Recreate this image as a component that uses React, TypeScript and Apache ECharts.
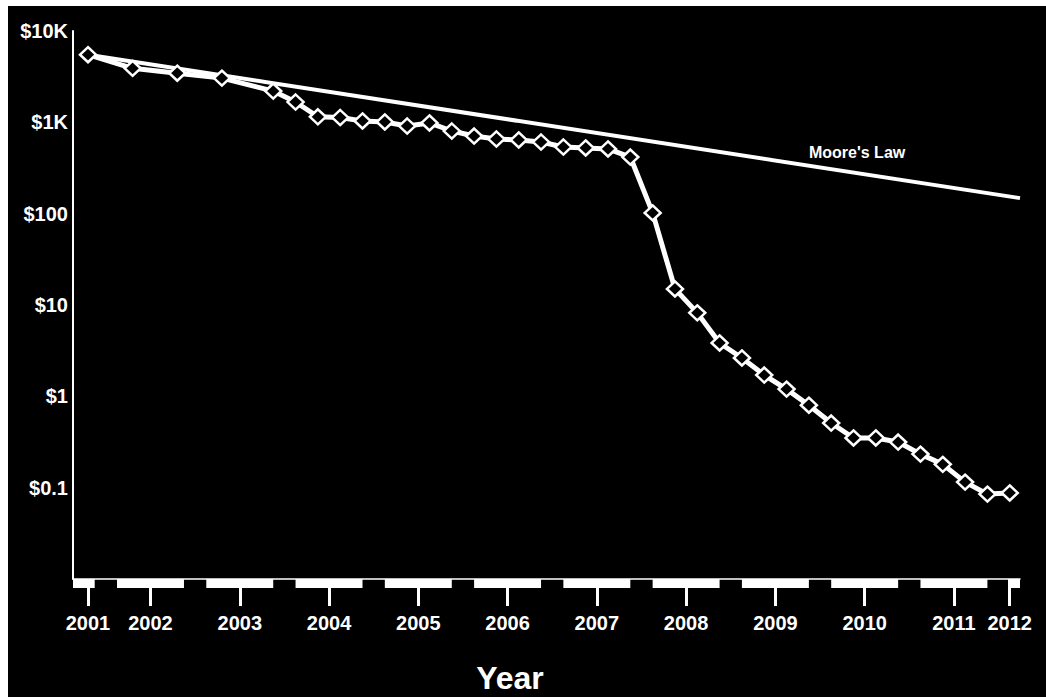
import React, { useEffect, useRef } from "react";
import * as echarts from "echarts";

// ---- data ----
// decimal-year positions of the observed points
const YEARS: number[] = [
  2001.3, 2001.8, 2002.3, 2002.8,
  2003.375, 2003.625, 2003.875, 2004.125, 2004.375, 2004.625, 2004.875,
  2005.125, 2005.375, 2005.625, 2005.875, 2006.125, 2006.375, 2006.625,
  2006.875, 2007.125, 2007.375, 2007.625, 2007.875, 2008.125, 2008.375,
  2008.625, 2008.875, 2009.125, 2009.375, 2009.625, 2009.875, 2010.125,
  2010.375, 2010.625, 2010.875, 2011.125, 2011.375, 2011.625,
];
// cost in US dollars (log scale)
const COST: number[] = [
  5500, 3900, 3450, 3050,
  2200, 1670, 1150, 1130, 1035, 1010, 912,
  984, 804, 708, 657, 641, 609, 537,
  524, 511, 417, 102, 15.0, 8.2, 3.84,
  2.63, 1.71, 1.2, 0.8, 0.51, 0.35, 0.35,
  0.316, 0.233, 0.18, 0.115, 0.085, 0.0875,
];
const MOORE_YEARS: number[] = [2001.3, 2011.74];
const MOORE_COST: number[] = [5500, 148];
const MOORE_LABEL = "Moore's Law";
const MOORE_LABEL_AT: [number, number] = [2009.915, 473];

const X_MIN = 2001.132;
const X_MAX = 2011.74;
const Y_MIN = 0.01;
const Y_MAX = 10000;
const TICK_YEARS: number[] = [2001.3, 2002, 2003, 2004, 2005, 2006, 2007, 2008, 2009, 2010, 2011, 2011.625];
const BLOCK_YEARS: number[] = [2001, 2002, 2003, 2004, 2005, 2006, 2007, 2008, 2009, 2010, 2011, 2012];
const X_TITLE = "Year";

const FONT = "'Liberation Sans', Arial, sans-serif";

export default function App() {
  const ref = useRef<HTMLDivElement>(null);

  useEffect(() => {
    if (!ref.current) return;
    const chart = echarts.init(ref.current, undefined, { renderer: "svg" });

    const fmtX = (v: number) => {
      if (v < 2001.5) return "2001";
      if (v > 2011.5) return "2012";
      return String(Math.round(v));
    };
    const fmtY = (v: number) => {
      const e = Math.round(Math.log10(v));
      if (e <= -2) return "";
      if (e >= 3) return "$" + Math.pow(10, e - 3) + "K";
      if (e >= 0) return "$" + Math.pow(10, e);
      return "$" + Math.pow(10, e).toFixed(-e);
    };

    const option: any = {
      animation: false,
      backgroundColor: "#000",
      grid: { left: 65, right: 26, top: 25, bottom: 118, containLabel: false },
      xAxis: {
        type: "value",
        min: X_MIN,
        max: X_MAX,
        axisLine: { show: true, onZero: false, lineStyle: { color: "#fff", width: 1.5 } },
        axisTick: {
          show: true,
          customValues: TICK_YEARS,
          length: 27,
          lineStyle: { color: "#fff", width: 3 },
        },
        axisLabel: {
          customValues: TICK_YEARS,
          formatter: fmtX,
          color: "#fff",
          fontSize: 20,
          fontWeight: "bold",
          fontFamily: FONT,
          margin: 34,
        },
        splitLine: { show: false },
      },
      yAxis: {
        type: "log",
        logBase: 10,
        min: Y_MIN,
        max: Y_MAX,
        axisLine: { show: true, lineStyle: { color: "#fff", width: 2 } },
        axisTick: { show: false },
        splitLine: { show: false },
        minorTick: { show: false },
        axisLabel: {
          formatter: fmtY,
          color: "#fff",
          fontSize: 20,
          fontWeight: "bold",
          fontFamily: FONT,
          margin: 5,
        },
      },
      graphic: [
        {
          type: "text",
          x: 502,
          y: 672,
          style: {
            text: X_TITLE,
            fill: "#fff",
            font: `bold 32px ${FONT}`,
            align: "center",
            verticalAlign: "middle",
          },
        },
      ],
      series: [
        {
          type: "custom",
          name: "axisBlocks",
          silent: true,
          clip: false,
          z: 1,
          data: BLOCK_YEARS.map((y) => [y, Y_MIN]),
          renderItem: (params: any, api: any) => {
            const yr = api.value(0);
            const cs = params.coordSys;
            const l = api.coord([yr - 0.375, Y_MIN])[0];
            const r = api.coord([yr + 0.375, Y_MIN])[0];
            const x0 = Math.max(cs.x, l);
            const x1 = Math.min(cs.x + cs.width, r);
            if (x1 <= x0) return null;
            return {
              type: "rect",
              shape: { x: x0, y: cs.y + cs.height, width: x1 - x0, height: 9 },
              style: { fill: "#fff" },
            };
          },
        },
        {
          type: "line",
          name: MOORE_LABEL,
          z: 2,
          symbol: "none",
          data: MOORE_YEARS.map((y, i) => [y, MOORE_COST[i]]),
          lineStyle: { color: "#fff", width: 4 },
          markPoint: {
            symbol: "circle",
            symbolSize: 1,
            itemStyle: { color: "rgba(0,0,0,0)" },
            label: {
              show: true,
              position: "inside",
              formatter: MOORE_LABEL,
              color: "#fff",
              fontSize: 16,
              fontWeight: "bold",
              fontFamily: FONT,
            },
            data: [{ coord: MOORE_LABEL_AT }],
          },
        },
        {
          type: "line",
          name: "Cost",
          z: 3,
          data: YEARS.map((y, i) => [y, COST[i]]),
          lineStyle: { color: "#fff", width: 5 },
          symbol: "diamond",
          symbolSize: [16, 15],
          itemStyle: { color: "#000", borderColor: "#fff", borderWidth: 2.5 },
        },
      ],
    };

    chart.setOption(option);
    return () => chart.dispose();
  }, []);

  return (
    <div
      style={{
        position: "fixed",
        left: 8,
        top: 6,
        width: 1038,
        height: 691,
        background: "#000",
      }}
    >
      <div ref={ref} style={{ width: 1038, height: 691 }} />
    </div>
  );
}
